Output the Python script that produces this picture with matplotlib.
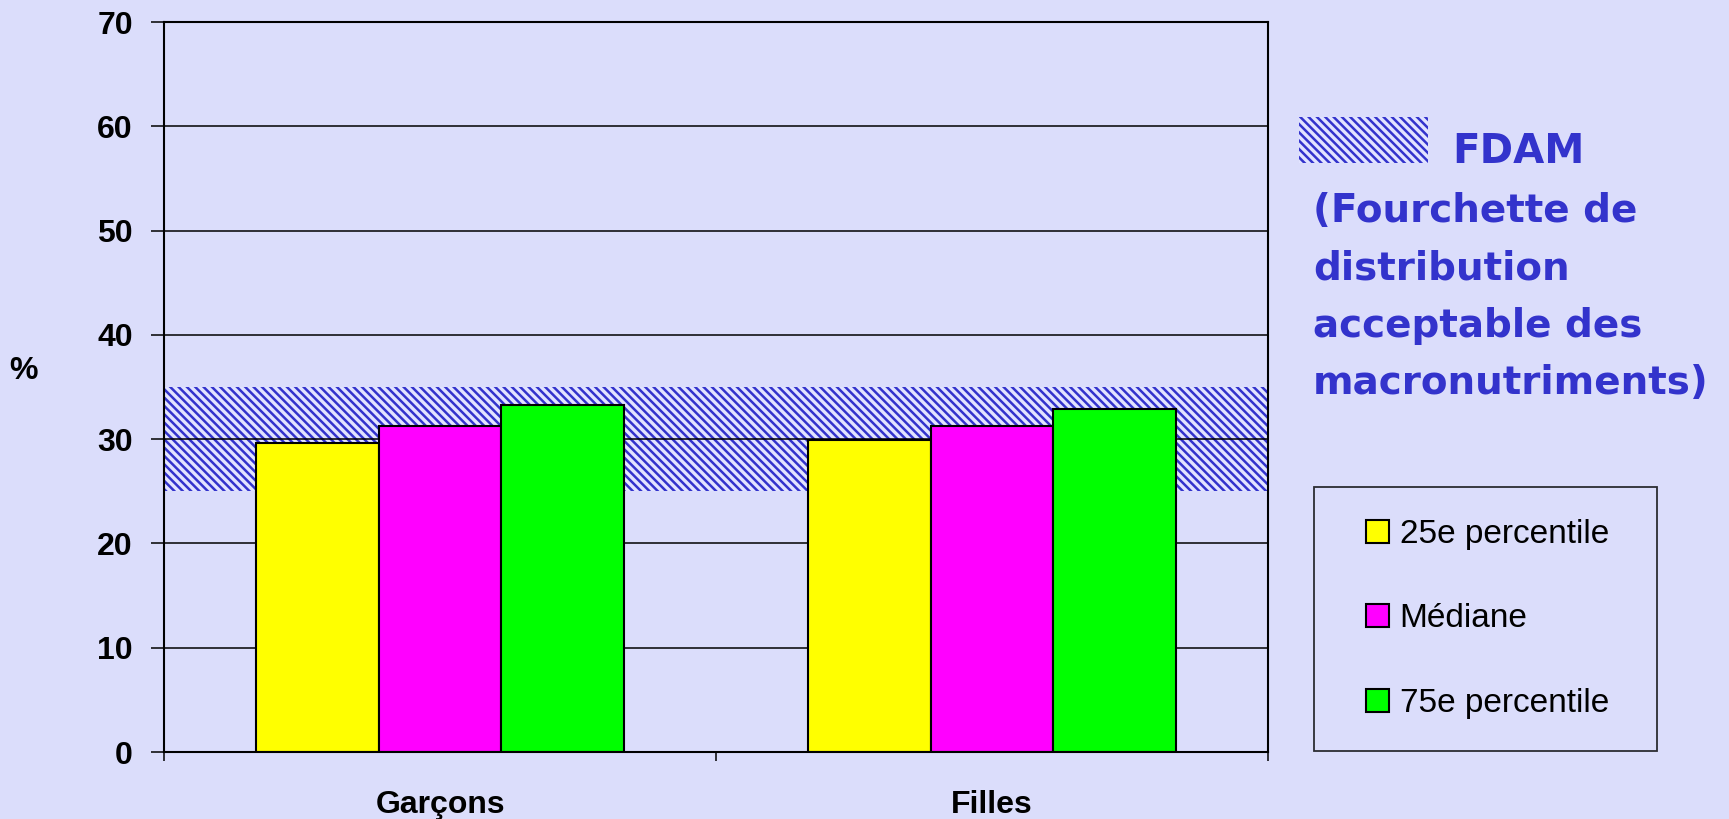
import numpy as np
import matplotlib.pyplot as plt
from matplotlib.patches import Rectangle
from matplotlib.legend_handler import HandlerPatch

# Données
categories = ["Garçons", "Filles"]
series_labels = ["25e percentile", "Médiane", "75e percentile"]
p25 = [29.6, 29.9]
mediane = [31.3, 31.3]
p75 = [33.3, 32.9]
fdam_bas, fdam_haut = 25, 35
yticks = [0, 10, 20, 30, 40, 50, 60, 70]

bg = "#DBDDFB"
bleu = "#3333CC"
couleurs = ["#FFFF00", "#FF00FF", "#00FF00"]
hachures = "\\\\\\\\"

plt.rcParams["font.family"] = ["Liberation Sans", "DejaVu Sans"]
plt.rcParams["hatch.linewidth"] = 1.8

fig = plt.figure(figsize=(17.29, 8.19), dpi=100, facecolor=bg)
ax = fig.add_axes([0.0949, 0.0818, 0.6385, 0.8913], facecolor=bg)

x = np.arange(len(categories))
w = 0.222

# Bande FDAM (25-35 %)
ax.axhspan(fdam_bas, fdam_haut, facecolor="#E2E4FF", edgecolor=bleu,
           linewidth=0, hatch=hachures, zorder=0)

# Quadrillage horizontal
for t in yticks[1:]:
    ax.axhline(t, color="black", lw=1.1, zorder=1)

series = [p25, mediane, p75]
barres = []
for i, (vals, c) in enumerate(zip(series, couleurs)):
    b = ax.bar(x + (i - 1) * w, vals, w, color=c, edgecolor="black",
               linewidth=1.5, zorder=2)
    barres.append(b.patches[0])

ax.set_xlim(-0.5, 1.5)
ax.set_ylim(0, 70)
ax.set_yticks(yticks)
ax.set_yticklabels([str(t) for t in yticks], fontsize=23, fontweight="bold")
ax.tick_params(axis="y", length=9.5, width=1.1, pad=13)

ax.set_xticks([-0.5, 0.5, 1.5])
ax.set_xticklabels([])
ax.set_xticks(x, minor=True)
ax.set_xticklabels(categories, minor=True, fontsize=23, fontweight="bold")
ax.tick_params(axis="x", which="major", length=6.5, width=1.1)
ax.tick_params(axis="x", which="minor", length=0, pad=27)

for s in ["left", "right", "bottom", "top"]:
    ax.spines[s].set_linewidth(1.5)

fig.text(24 / 1729, 1 - 371 / 819, "%", fontsize=23, fontweight="bold",
         ha="center", va="center")

# Légende de la bande FDAM
fig.add_artist(Rectangle((1299 / 1729, 1 - 163 / 819), 129 / 1729, 46 / 819,
                         transform=fig.transFigure, facecolor="#E2E4FF",
                         edgecolor=bleu, linewidth=0, hatch=hachures))
fig.text(1452 / 1729, 1 - 163 / 819, "FDAM", fontsize=29, fontweight="bold",
         color=bleu, family="DejaVu Sans", va="baseline")
lignes = ["(Fourchette de", "distribution", "acceptable des", "macronutriments)"]
for ligne, yb in zip(lignes, [222, 280, 337, 394]):
    fig.text(1313 / 1729, 1 - yb / 819, ligne, fontsize=28, fontweight="bold",
             color=bleu, family="DejaVu Sans", va="baseline")


# carré de légende aligné à droite de la zone de symbole
def carre(legend, orig_handle, xdescent, ydescent, width, height, fontsize):
    s = 23 * 72 / 100
    return Rectangle((-xdescent + width - s, -ydescent + (height - s) / 2), s, s)


leg = fig.legend(barres, series_labels, loc="upper left",
                 bbox_to_anchor=(1314 / 1729, 1 - 749 / 819, 343 / 1729, 262 / 819),
                 mode="expand",
                 fontsize=24, frameon=True, fancybox=False, edgecolor="black",
                 facecolor=bg, handlelength=1.29, handleheight=0.7,
                 handletextpad=0.33, labelspacing=1.61, borderpad=0.95,
                 borderaxespad=0,
                 handler_map={h: HandlerPatch(patch_func=carre) for h in barres})
leg.get_frame().set_linewidth(1.3)

fig.savefig("out.png", dpi=100, facecolor=bg)
